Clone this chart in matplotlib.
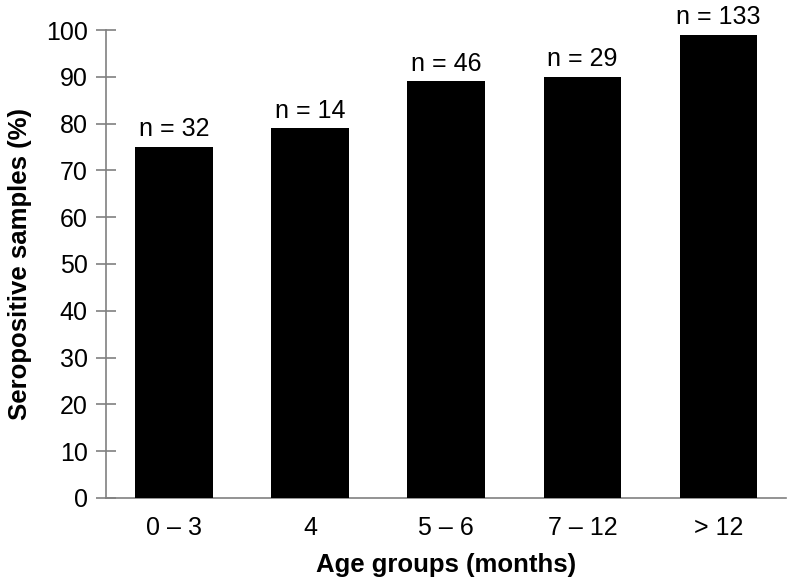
import matplotlib
matplotlib.use("Agg")
import matplotlib.pyplot as plt
import numpy as np

# Data
age_groups = ["0 \u2013 3", "4", "5 \u2013 6", "7 \u2013 12", "> 12"]
seropositive_pct = [75, 79, 89, 90, 99]
sample_sizes = [32, 14, 46, 29, 133]
y_ticks = list(range(0, 101, 10))

plt.rcParams['font.family'] = ['Liberation Sans', 'DejaVu Sans']

axis_grey = "#808080"

fig = plt.figure(figsize=(7.89, 5.84), dpi=100)
ax = fig.add_axes((0.1343, 0.1473, 0.8625, 0.8013))

x = np.arange(len(age_groups))
bars = ax.bar(x, seropositive_pct, width=0.57, color="black", zorder=3)

# n = ... labels above bars
for rect, n in zip(bars, sample_sizes):
    ax.annotate("n = %d" % n,
                xy=(rect.get_x() + rect.get_width() / 2, rect.get_height()),
                xytext=(0, 4), textcoords="offset points",
                ha="center", va="bottom", fontsize=18)

ax.set_xlim(-0.5, len(age_groups) - 0.5)
ax.set_ylim(0, 100)
ax.set_yticks(y_ticks)
ax.set_xticks(x)
ax.set_xticklabels(age_groups)

for side in ("top", "right"):
    ax.spines[side].set_visible(False)
for side in ("left", "bottom"):
    ax.spines[side].set_color(axis_grey)
    ax.spines[side].set_linewidth(1.2)

ax.tick_params(axis="y", direction="inout", length=14.4, width=1.2,
               color=axis_grey, labelsize=18, pad=6)
ax.tick_params(axis="x", length=0, labelsize=18, pad=13)

ax.set_ylabel("Seropositive samples (%)", fontsize=18.5, fontweight="bold")
ax.yaxis.set_label_coords(-0.109, 0.5)
ax.set_xlabel("Age groups (months)", fontsize=18.5, fontweight="bold",
              labelpad=9)

plt.savefig("out.png", dpi=100)
plt.close()
